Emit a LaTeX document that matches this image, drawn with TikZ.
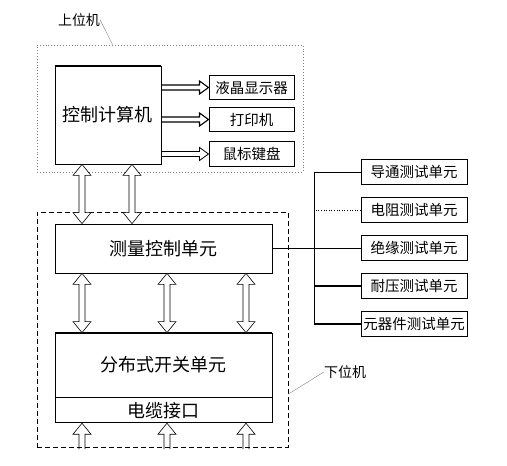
\documentclass[tikz,border=0pt]{standalone}
\usepackage{fontspec}
\newfontfamily\cjk{Noto Sans CJK SC}
\usetikzlibrary{positioning,calc}

\begin{document}
\begin{tikzpicture}[x=1pt, y=-1pt, node distance = 12.5pt]
            \tikzstyle{unit} = [draw=black, line width=0.8pt, inner sep=0pt, minimum width=217pt, font=\cjk\fontsize{18}{18}\selectfont];
            \tikzstyle{small} = [draw=black, line width=1pt, inner sep=0pt, minimum width=85pt, minimum height=24.5pt, font=\cjk\fontsize{14.5}{14.5}\selectfont];
            \tikzstyle{test} = [small, minimum width=106pt];
            \tikzstyle{tag} = [inner sep=0pt, font=\cjk\fontsize{14}{14}\selectfont];
            % hollow block arrows (start -> target)
            \tikzstyle{hbus} = [line width=0.8pt, to path={let \p1=(\tikztostart), \p2=(\tikztotarget) in
                ({\x1},{\y1+2.5pt}) -- ({\x2-9pt},{\y1+2.5pt}) -- ({\x2-9pt},{\y1+6.5pt}) -- ({\x2},{\y1})
                -- ({\x2-9pt},{\y1-6.5pt}) -- ({\x2-9pt},{\y1-2.5pt}) -- ({\x1},{\y1-2.5pt})}];
            \tikzstyle{vbus} = [line width=0.6pt, fill=white, to path={let \p1=(\tikztostart), \p2=(\tikztotarget) in
                ({\x1},{\y1}) -- ({\x1+9pt},{\y1-11pt}) -- ({\x1+3pt},{\y1-11pt}) -- ({\x1+3pt},{\y2+11pt})
                -- ({\x1+9pt},{\y2+11pt}) -- ({\x1},{\y2}) -- ({\x1-9pt},{\y2+11pt}) -- ({\x1-3pt},{\y2+11pt})
                -- ({\x1-3pt},{\y1-11pt}) -- ({\x1-9pt},{\y1-11pt}) -- cycle}];
            \tikzstyle{upbus} = [line width=0.6pt, to path={let \p1=(\tikztostart), \p2=(\tikztotarget) in
                ({\x1-3pt},{\y1}) -- ({\x1-3pt},{\y2-11pt}) -- ({\x1-9pt},{\y2-11pt}) -- ({\x1},{\y2})
                -- ({\x1+9pt},{\y2-11pt}) -- ({\x1+3pt},{\y2-11pt}) -- ({\x1+3pt},{\y1})}];
            \useasboundingbox (0,0) rectangle (507,466);

            % upper computer
            \node [draw=gray, dotted, line width=0.9pt, minimum width=266pt, minimum height=127pt] (upper) at (170,108.5) {};
            \node [tag] (lbup) at (79,20) {上位机};
            \draw [gray, line width=0.4pt] (lbup.east) -- ([xshift=76pt]upper.north west);

            \node [unit, minimum width=106pt, minimum height=98pt] (pc) at (108,115) {控制计算机};
            \node [small] (lcd) at (251.5,87.5) {液晶显示器};
            \node [small, below = 6.5pt of lcd] (prn) {打印机};
            \node [small, below = 9pt of prn] (kbd) {鼠标键盘};

            \draw [hbus, line width=1.1pt] (pc.east |- lcd.west) to (lcd.west);
            \draw [hbus, line width=1.1pt] (pc.east |- prn.west) to (prn.west);
            \draw [hbus] (pc.east |- kbd.west) to (kbd.west);

            % lower computer
            \node [draw=black, dashed, line width=0.9pt, dash pattern=on 5pt off 3pt, minimum width=251pt, minimum height=235pt] (lower) at (162.5,329.5) {};
            \node [tag] (lblow) at (345,372) {下位机};
            \draw [gray, line width=0.4pt] (lblow.west) -- ([yshift=-64.5pt]lower.east);

            \node [unit, minimum height=49pt] (mcu) at (163.5,248.5) {测量控制单元};
            \node [unit, minimum height=64pt] (sw) at (163.5,365) {分布式开关单元};
            \node [unit, minimum height=25pt, below = 0pt of sw] (cable) {电缆接口};
            \draw [line width=1.5pt] (pc.north west) -- (pc.north east);
            \draw [line width=1.5pt] (sw.north west) -- (sw.north east);
            \draw [line width=1.5pt] (sw.south west) -- (sw.south east);

            \draw [vbus] (82,0 |- pc.south) to (82,0 |- mcu.north);
            \draw [vbus] (132,0 |- pc.south) to (132,0 |- mcu.north);

            \draw [vbus] (82,0 |- mcu.south) to (82,0 |- sw.north);
            \draw [vbus] (167,0 |- mcu.south) to (167,0 |- sw.north);
            \draw [vbus] (246,0 |- mcu.south) to (246,0 |- sw.north);

            \coordinate (in1) at (82,449);
            \coordinate (in2) at (167,449);
            \coordinate (in3) at (246,449);
            \draw [upbus] (in1) to (in1 |- cable.south);
            \draw [upbus] (in2) to (in2 |- cable.south);
            \draw [upbus] (in3) to (in3 |- cable.south);

            % test units
            \node [test] (t1) at (414,172) {导通测试单元};
            \node [test, below = of t1] (t2) {电阻测试单元};
            \node [test, below = of t2] (t3) {绝缘测试单元};
            \node [test, below = of t3] (t4) {耐压测试单元};
            \node [test, below = of t4] (t5) {元器件测试单元};

            \coordinate (bus) at (314,172);
            \draw [line width=0.6pt] (t1.west) -- (bus) |- (t5.west);
            \draw [dotted, line width=0.6pt] (t2.west) -- (t2.west -| bus);
            \draw [line width=0.8pt] (mcu.east) -- (mcu.east -| t3.west);
            \draw [line width=1.2pt] (t4.west) -- (t4.west -| bus);
            \draw [line width=1.2pt] (t5.west) -- (t5.west -| bus);
        \end{tikzpicture}
\end{document}
